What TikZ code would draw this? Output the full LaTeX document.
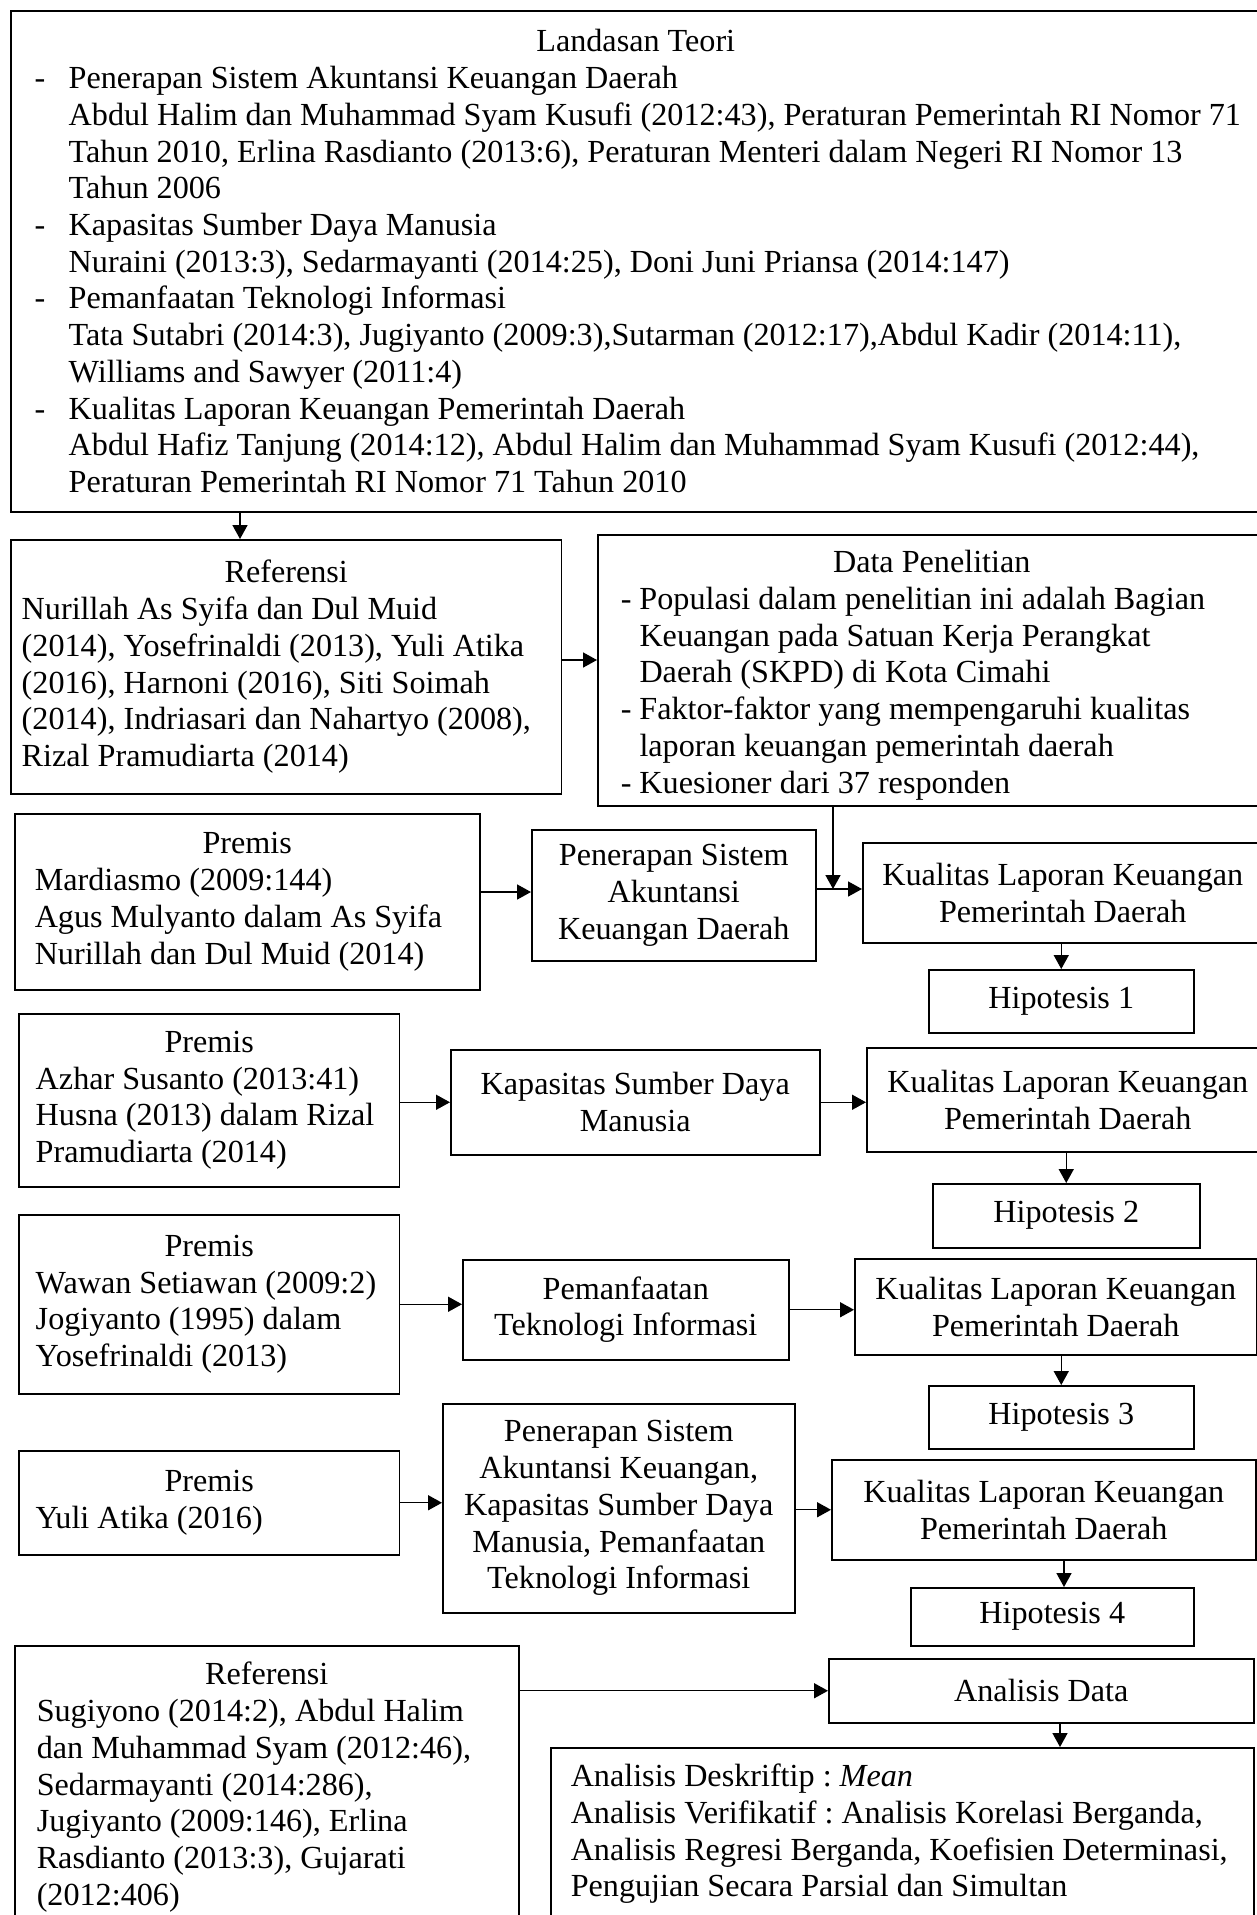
\documentclass[tikz,border=0pt]{standalone}
\usepackage{fontspec}
\setmainfont{Liberation Serif}
\usetikzlibrary{arrows.meta}
\frenchspacing
\tikzset{
  box/.style={draw, line width=0.56pt, anchor=north west, inner ysep=0pt,
    font=\fontsize{12}{13.7}\selectfont\frenchspacing},
  lbox/.style={box, align=flush left},
  cbox/.style={box, align=center, inner xsep=0pt},
  arr/.style={-{Triangle[length=5.2pt,width=5.6pt]}, line width=0.5pt},
}
\begin{document}
\begin{tikzpicture}[x=0.373pt,y=-0.373pt]
\useasboundingbox (0,0) rectangle (1257,1915);
\clip (0,0) rectangle (1257,1915);

\node[lbox, text width=462pt, inner xsep=8.95pt, minimum height=186.87pt] (L) at (10,10) {%
\makebox[448.35pt]{Landasan Teori}\\
\makebox[12.68pt][l]{-}Penerapan Sistem Akuntansi Keuangan Daerah\\
\hspace*{12.68pt}Abdul Halim dan Muhammad Syam Kusufi (2012:43), Peraturan Pemerintah RI Nomor 71\\
\hspace*{12.68pt}Tahun 2010, Erlina Rasdianto (2013:6), Peraturan Menteri dalam Negeri RI Nomor 13\\
\hspace*{12.68pt}Tahun 2006\\
\makebox[12.68pt][l]{-}Kapasitas Sumber Daya Manusia\\
\hspace*{12.68pt}Nuraini (2013:3), Sedarmayanti (2014:25), Doni Juni Priansa (2014:147)\\
\makebox[12.68pt][l]{-}Pemanfaatan Teknologi Informasi\\
\hspace*{12.68pt}Tata Sutabri (2014:3), Jugiyanto (2009:3),Sutarman (2012:17),Abdul Kadir (2014:11),\\
\hspace*{12.68pt}Williams and Sawyer (2011:4)\\
\makebox[12.68pt][l]{-}Kualitas Laporan Keuangan Pemerintah Daerah\\
\hspace*{12.68pt}Abdul Hafiz Tanjung (2014:12), Abdul Halim dan Muhammad Syam Kusufi (2012:44),\\
\hspace*{12.68pt}Peraturan Pemerintah RI Nomor 71 Tahun 2010};

\node[lbox, text width=197.3pt, inner xsep=4.1pt, minimum height=94.74pt] (R1) at (10,539) {%
\makebox[197.3pt]{Referensi}\\
Nurillah As Syifa dan Dul Muid\\
(2014), Yosefrinaldi (2013), Yuli Atika\\
(2016), Harnoni (2016), Siti Soimah\\
(2014), Indriasari dan Nahartyo (2008),\\
Rizal Pramudiarta (2014)};

\node[lbox, text width=232pt, inner xsep=8.58pt, minimum height=101.08pt] (D) at (597,534) {%
\rule{0pt}{12pt}\makebox[232pt]{Data Penelitian}\\
- Populasi dalam penelitian ini adalah Bagian\\
\phantom{- }Keuangan pada Satuan Kerja Perangkat\\
\phantom{- }Daerah (SKPD) di Kota Cimahi\\
- Faktor-faktor yang mempengaruhi kualitas\\
\phantom{- }laporan keuangan pemerintah daerah\\
- Kuesioner dari 37 responden};

\node[lbox, text width=158.53pt, inner xsep=7.46pt, minimum height=65.65pt] (P1) at (14,813) {%
\makebox[158.53pt]{Premis}\\
Mardiasmo (2009:144)\\
Agus Mulyanto dalam As Syifa\\
Nurillah dan Dul Muid (2014)};

\node[cbox, minimum width=105.93pt, minimum height=48.86pt] (Pen1) at (531,829) {Penerapan Sistem\\Akuntansi\\Keuangan Daerah};
\node[cbox, minimum width=149.2pt, minimum height=37.3pt] (K1) at (862,842) {Kualitas Laporan Keuangan\\Pemerintah Daerah};
\node[cbox, minimum width=98.85pt, minimum height=23.5pt] (H1) at (928,969) {Hipotesis 1};

\node[lbox, text width=129.43pt, inner xsep=6.34pt, minimum height=64.53pt] (P2) at (18,1013) {%
\makebox[129.43pt]{Premis}\\
Azhar Susanto (2013:41)\\
Husna (2013) dalam Rizal\\
Pramudiarta (2014)};
\node[cbox, minimum width=137.64pt, minimum height=39.17pt] (Kap) at (450,1049) {Kapasitas Sumber Daya\\Manusia};
\node[cbox, minimum width=149.95pt, minimum height=38.79pt] (K2) at (866,1047) {Kualitas Laporan Keuangan\\Pemerintah Daerah};
\node[cbox, minimum width=99.59pt, minimum height=23.87pt] (H2) at (932,1183) {Hipotesis 2};

\node[lbox, text width=129.43pt, inner xsep=6.34pt, minimum height=66.77pt] (P3) at (18,1214) {%
\makebox[129.43pt]{Premis}\\
Wawan Setiawan (2009:2)\\
Jogiyanto (1995) dalam\\
Yosefrinaldi (2013)};
\node[cbox, minimum width=121.6pt, minimum height=37.3pt] (Pem) at (462,1259) {Pemanfaatan\\Teknologi Informasi};
\node[cbox, minimum width=149.95pt, minimum height=35.81pt] (K3) at (854,1258) {Kualitas Laporan Keuangan\\Pemerintah Daerah};
\node[cbox, minimum width=98.85pt, minimum height=23.5pt] (H3) at (928,1385) {Hipotesis 3};

\node[lbox, text width=129.43pt, inner xsep=6.34pt, minimum height=38.79pt] (P4) at (18,1450) {%
\makebox[129.43pt]{Premis}\\
Yuli Atika (2016)};
\node[cbox, minimum width=131.3pt, minimum height=77.96pt] (Pen4) at (442,1403) {Penerapan Sistem\\Akuntansi Keuangan,\\Kapasitas Sumber Daya\\Manusia, Pemanfaatan\\Teknologi Informasi};
\node[cbox, minimum width=158.15pt, minimum height=37.3pt] (K4) at (831,1459) {Kualitas Laporan Keuangan\\Pemerintah Daerah};
\node[cbox, minimum width=105.56pt, minimum height=21.63pt] (H4) at (910,1587) {Hipotesis 4};

\node[lbox, text width=171.58pt, inner xsep=8.21pt, minimum height=105.56pt] (R2) at (14,1645) {%
\makebox[171.58pt]{Referensi}\\
Sugiyono (2014:2), Abdul Halim\\
dan Muhammad Syam (2012:46),\\
Sedarmayanti (2014:286),\\
Jugiyanto (2009:146), Erlina\\
Rasdianto (2013:3), Gujarati\\
(2012:406)};
\node[cbox, minimum width=158.53pt, minimum height=23.87pt] (AD) at (828,1658) {Analisis Data};
\node[lbox, text width=247.3pt, inner xsep=7.46pt, minimum height=64.16pt] (B) at (550,1747) {%
Analisis Deskriftip : \textit{Mean}\\
Analisis Verifikatif : Analisis Korelasi Berganda,\\
Analisis Regresi Berganda, Koefisien Determinasi,\\
Pengujian Secara Parsial dan Simultan};

\coordinate (a1) at (240,0);
\coordinate (a2) at (0,660);
\coordinate (a3) at (833,889);
\coordinate (a4) at (0,892);
\coordinate (a5) at (1064,0);
\coordinate (a6) at (1060,0);

\draw[arr] (L.south -| a1) -- (R1.north -| a1);
\draw[arr] (R1.east |- a2) -- (D.west |- a2);
\draw[arr] (D.south -| a3) -- (a3);
\draw[arr] (P1.east |- a4) -- (Pen1.west |- a4);
\draw[arr] (Pen1.east |- a3) -- (K1.west |- a3);
\draw[arr] (K1.south -| H1.north) -- (H1.north);
\draw[arr] (P2.east |- Kap.west) -- (Kap.west);
\draw[arr] (Kap.east) -- (K2.west |- Kap.east);
\draw[arr] (K2.south -| H2.north) -- (H2.north);
\draw[arr] (P3.east) -- (Pem.west |- P3.east);
\draw[arr] (Pem.east) -- (K3.west |- Pem.east);
\draw[arr] (K3.south -| H3.north) -- (H3.north);
\draw[arr] (P4.east) -- (Pen4.west |- P4.east);
\draw[arr] (Pen4.east |- K4.west) -- (K4.west);
\draw[arr] (K4.south -| a5) -- (H4.north -| a5);
\draw[arr] (R2.east |- AD.west) -- (AD.west);
\draw[arr] (AD.south -| a6) -- (B.north -| a6);
\end{tikzpicture}
\end{document}
